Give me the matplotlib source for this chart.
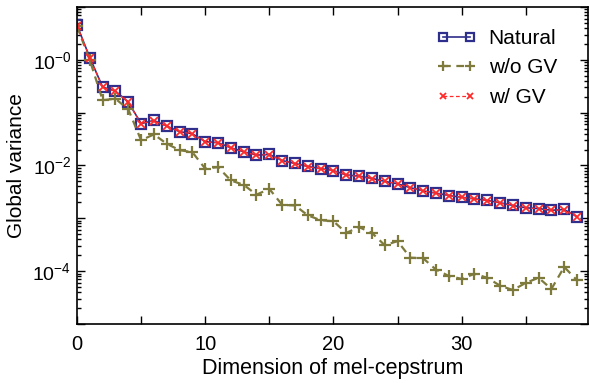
import numpy as np
import matplotlib
matplotlib.use("Agg")
import matplotlib.pyplot as plt
from matplotlib.ticker import FixedLocator, FixedFormatter, MultipleLocator, LogLocator, NullFormatter

plt.rcParams['font.family'] = ['Liberation Sans', 'DejaVu Sans']
plt.rcParams['mathtext.default'] = 'regular'

# dimension index of mel-cepstrum
dims = np.arange(40)

natural = [4.5, 1.10, 0.304, 0.255, 0.158, 0.062, 0.071, 0.0555, 0.0436, 0.0398,
           0.0282, 0.027, 0.0216, 0.0182, 0.0157, 0.0162, 0.0124, 0.0109, 0.0096, 0.0087,
           0.0080, 0.0066, 0.0063, 0.0057, 0.0050, 0.0045, 0.0038, 0.0033, 0.0030, 0.0027,
           0.0025, 0.00234, 0.00218, 0.00197, 0.00175, 0.00158, 0.00153, 0.00142, 0.00147, 0.00107]

wo_gv = [4.3, 0.98, 0.172, 0.183, 0.115, 0.030, 0.0387, 0.0257, 0.0195, 0.0178,
         0.0087, 0.0093, 0.0052, 0.0043, 0.0028, 0.0036, 0.0018, 0.00175, 0.00114, 0.00092,
         0.00088, 0.00053, 0.00068, 0.00053, 0.00031, 0.00037, 0.00018, 0.000175, 0.000107, 0.000081,
         0.0000714, 0.000089, 0.000075, 0.000053, 0.000044, 0.00006, 0.000075, 0.000046, 0.00012, 0.000067]

w_gv = [4.4, 1.08, 0.300, 0.252, 0.156, 0.062, 0.070, 0.0553, 0.0434, 0.0396,
        0.0280, 0.0268, 0.0215, 0.0181, 0.0156, 0.0161, 0.0123, 0.0108, 0.0095, 0.0086,
        0.0079, 0.0066, 0.0062, 0.0056, 0.0050, 0.0045, 0.0038, 0.0033, 0.0030, 0.0027,
        0.0025, 0.00232, 0.00216, 0.00195, 0.00174, 0.00157, 0.00152, 0.00141, 0.00146, 0.00106]

fig = plt.figure(figsize=(5.9, 3.83), dpi=100)
ax = fig.add_axes([0.1305, 0.154, 0.866, 0.828])

ax.plot(dims, natural, color='#2e2e8c', lw=1.2, marker='s', ms=7, mfc='none',
        mec='#2e2e8c', mew=1.6, label='Natural')
ax.plot(dims, wo_gv, color='#7d7a3c', lw=1.6, ls=(0, (3.5, 2.5)), marker='+', ms=8,
        mew=1.6, label='w/o GV')
ax.plot(dims, w_gv, color='#ff2a2a', lw=0.9, ls=(0, (3, 2)), marker='x', ms=5.5,
        mew=1.3, label='w/ GV')

ax.set_yscale('log')
ax.set_ylim(1e-5, 10)
ax.set_xlim(0, 39.85)

ax.xaxis.set_major_locator(MultipleLocator(10))
ax.xaxis.set_minor_locator(MultipleLocator(5))
ax.yaxis.set_major_locator(FixedLocator([1e-5, 1e-4, 1e-3, 1e-2, 1e-1, 1, 10]))
ax.yaxis.set_major_formatter(FixedFormatter(['', '$10^{-4}$', '', '$10^{-2}$', '', '$10^{-0}$', '']))
ax.yaxis.set_minor_locator(LogLocator(base=10, subs=np.arange(2, 10), numticks=20))
ax.yaxis.set_minor_formatter(NullFormatter())

ax.tick_params(which='both', direction='in', top=True, right=True, width=1.0)
ax.tick_params(axis='x', which='both', length=6, pad=8, labelsize=14.5)
ax.tick_params(axis='y', which='major', length=6, pad=4, labelsize=14)
ax.tick_params(axis='y', which='minor', length=3)
for s in ax.spines.values():
    s.set_linewidth(1.2)

ax.set_xlabel('Dimension of mel-cepstrum', fontsize=15.5)
ax.set_ylabel('Global variance', fontsize=15)
ax.xaxis.set_label_coords(0.5, -0.108)
ax.yaxis.set_label_coords(-0.100, 0.5)

ax.legend(loc='upper right', bbox_to_anchor=(557 / 590, 1 - 29 / 383),
          bbox_transform=fig.transFigure, frameon=False, fontsize=15,
          numpoints=2, markerscale=0.85, handlelength=1.9, borderpad=0,
          borderaxespad=0, labelspacing=0.5, handletextpad=0.6)

fig.savefig('out.png', dpi=100)
